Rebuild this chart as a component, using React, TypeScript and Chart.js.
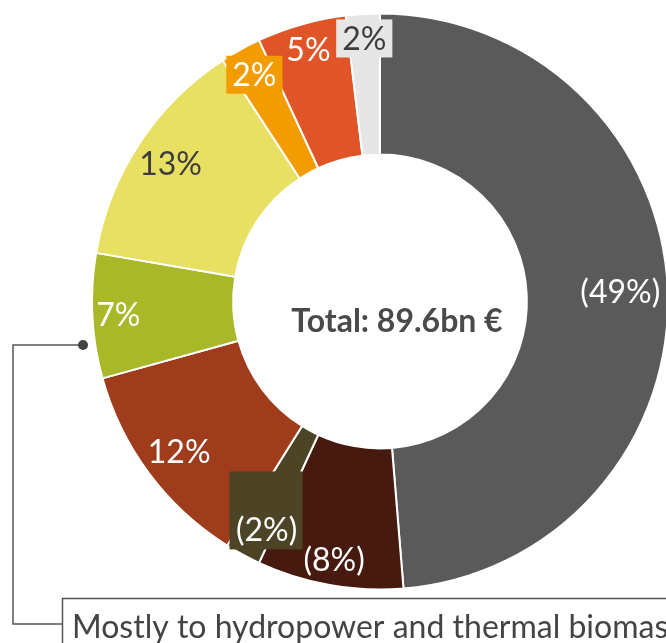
import React, { useEffect, useRef } from 'react';
import { Chart, registerables } from 'chart.js';

Chart.register(...registerables);

// Data (shares of total, in %), clockwise from 12 o'clock
const categories = [
  'Segment A',
  'Segment B',
  'Segment C',
  'Segment D',
  'Segment E',
  'Segment F',
  'Segment G',
  'Segment H',
  'Segment I',
];
const shares = [48.7, 8.2, 2.0, 11.8, 7.0, 13.1, 2.3, 5.0, 1.9];
const sliceLabels = ['(49%)', '(8%)', '(2%)', '12%', '7%', '13%', '2%', '5%', '2%'];
const sliceColors = [
  '#5a5a5a',
  '#461a0e',
  '#4d4425',
  '#9e3c1c',
  '#a8b829',
  '#e8e062',
  '#f39c00',
  '#e05528',
  '#e6e6e6',
];
const labelTextColors = ['#ffffff', '#ffffff', '#ffffff', '#ffffff', '#ffffff', '#3d3d3d', '#ffffff', '#ffffff', '#3d3d3d'];
const labelBoxColors: (string | null)[] = [null, null, '#4d4425', null, null, null, '#f39c00', null, '#e6e6e6'];
const labelRadius = [0.835, 0.91, 0.9, 0.87, 0.91, 0.87, 0.9, 0.91, 0.915];

const totalText = 'Total: 89.6bn €';
const noteText = 'Mostly to hydropower and thermal biomass';

const FONT = 'Lato, "Noto Sans", sans-serif';

const labelsPlugin = {
  id: 'sliceLabels',
  afterDatasetsDraw(chart: any) {
    const ctx: CanvasRenderingContext2D = chart.ctx;
    const meta = chart.getDatasetMeta(0);
    let cx = 0;
    let cy = 0;
    ctx.save();
    ctx.font = `32px ${FONT}`;
    ctx.textAlign = 'center';
    ctx.textBaseline = 'middle';
    meta.data.forEach((arc: any, i: number) => {
      const p = arc.getProps(['x', 'y', 'startAngle', 'endAngle', 'outerRadius'], true);
      cx = p.x;
      cy = p.y;
      const mid = (p.startAngle + p.endAngle) / 2;
      const r = p.outerRadius * labelRadius[i];
      let tx = p.x + Math.cos(mid) * r;
      let ty = p.y + Math.sin(mid) * r;
      const txt = sliceLabels[i];
      const w = ctx.measureText(txt).width;
      const box = labelBoxColors[i];
      if (box) {
        ctx.fillStyle = box;
        if (i === 2) {
          tx += 10;
          ctx.fillRect(tx - 37, ty - 58, 73, 78);
        } else {
          ctx.fillRect(tx - w / 2 - 6, ty - 19, w + 12, 38);
        }
      }
      ctx.fillStyle = labelTextColors[i];
      ctx.fillText(txt, tx, ty + 1);
    });
    ctx.restore();

    // centre total
    ctx.save();
    ctx.font = `bold 32px ${FONT}`;
    ctx.fillStyle = '#4a4a4a';
    ctx.textAlign = 'center';
    ctx.textBaseline = 'middle';
    ctx.fillText(totalText, cx + 17, cy + 20);
    ctx.restore();

    // callout
    ctx.save();
    ctx.strokeStyle = '#555555';
    ctx.lineWidth = 1.5;
    ctx.beginPath();
    ctx.moveTo(83, 345);
    ctx.lineTo(13, 345);
    ctx.lineTo(13, 624);
    ctx.lineTo(62, 624);
    ctx.stroke();
    ctx.fillStyle = '#444444';
    ctx.beginPath();
    ctx.arc(83, 345, 5, 0, Math.PI * 2);
    ctx.fill();
    ctx.fillStyle = '#ffffff';
    ctx.fillRect(62, 598, 700, 60);
    ctx.strokeRect(62.5, 598.5, 700, 60);
    ctx.fillStyle = '#444444';
    ctx.font = `32px ${FONT}`;
    ctx.textAlign = 'left';
    ctx.textBaseline = 'alphabetic';
    ctx.fillText(noteText, 72, 638);
    ctx.restore();
  },
};

export default function App() {
  const ref = useRef<HTMLCanvasElement | null>(null);
  useEffect(() => {
    if (!ref.current) return;
    const chart = new Chart(ref.current, {
      type: 'doughnut',
      data: {
        labels: categories,
        datasets: [
          {
            data: shares,
            backgroundColor: sliceColors,
            borderColor: '#ffffff',
            borderWidth: 2,
          },
        ],
      },
      options: {
        responsive: false,
        animation: false,
        devicePixelRatio: 1,
        cutout: '51%',
        layout: { padding: { left: 91, right: 31, top: 12, bottom: 52 } },
        plugins: {
          legend: { display: false },
          tooltip: { enabled: false },
        },
      },
      plugins: [labelsPlugin],
    });
    return () => chart.destroy();
  }, []);
  return (
    <div style={{ position: 'fixed', left: 0, top: 0, width: 666, height: 643, overflow: 'hidden', background: '#fff' }}>
      <canvas ref={ref} width={700} height={643} style={{ width: 700, height: 643, display: 'block' }} />
    </div>
  );
}
